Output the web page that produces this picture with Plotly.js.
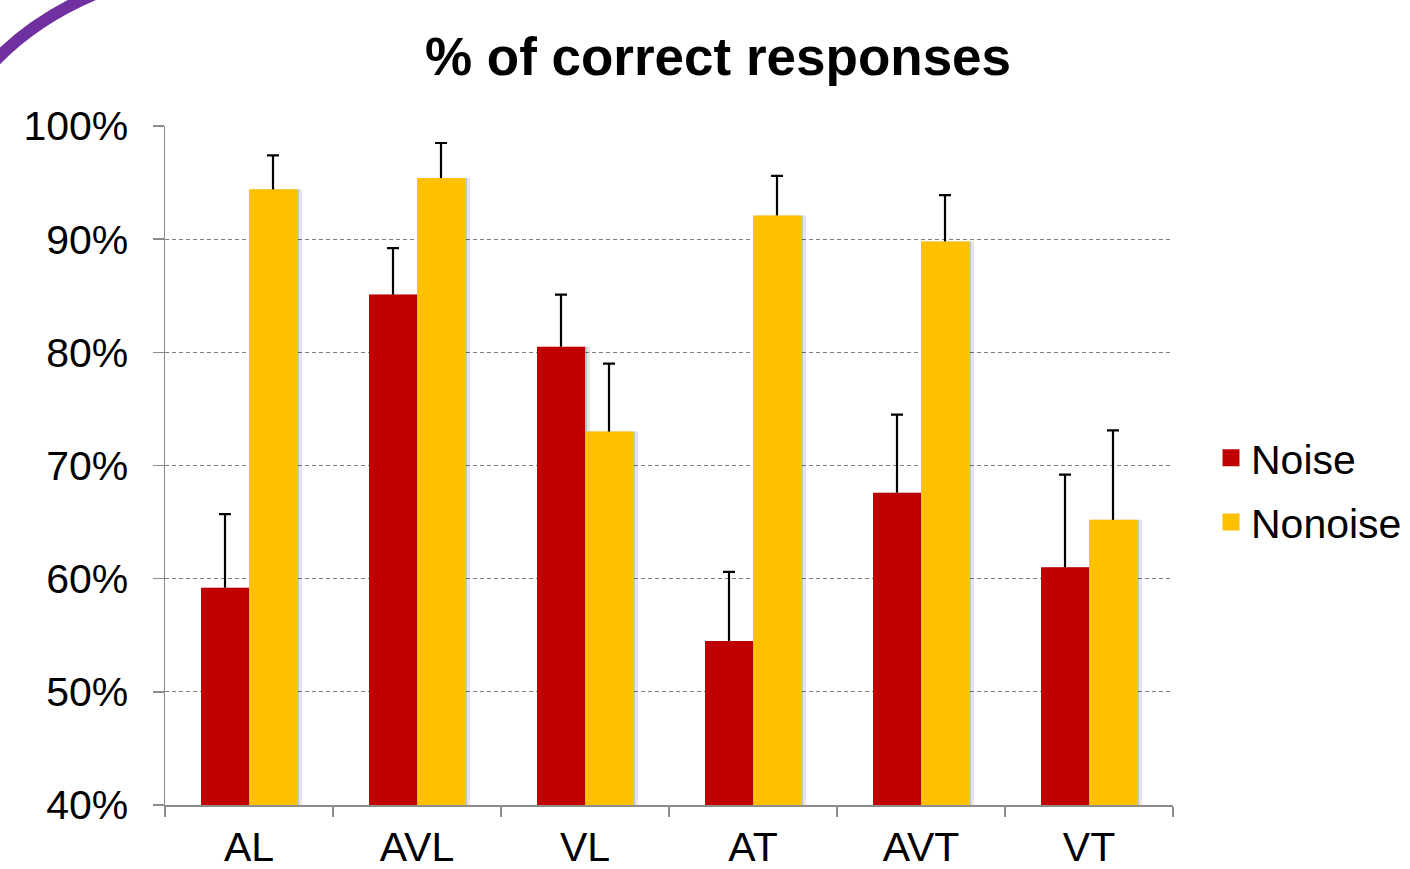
<!DOCTYPE html>
<html>
<head>
<meta charset="utf-8">
<script src="https://cdn.plot.ly/plotly-3.0.1.min.js"></script>
<style>
html,body{margin:0;padding:0;background:#fff;}
#chart{width:1410px;height:869px;}
</style>
</head>
<body>
<div id="chart"></div>
<script>
const categories = ['AL', 'AVL', 'VL', 'AT', 'AVT', 'VT'];
const noise = [59.2, 85.1, 80.5, 54.5, 67.6, 61.0];
const noiseErr = [6.5, 4.1, 4.6, 6.1, 6.9, 8.2];
const nonoise = [94.4, 95.4, 73.0, 92.1, 89.8, 65.2];
const nonoiseErr = [3.0, 3.1, 6.0, 3.5, 4.1, 7.9];
const yTicks = [40, 50, 60, 70, 80, 90, 100];

const AXIS_MIN = 40;
const W = 0.2857;      // bar width in category units
const px = 1 / 168;    // one pixel in category units

function shadow(vals, off, alpha) {
  return {
    type: 'bar', x: categories, y: vals.map(v => v - AXIS_MIN), base: AXIS_MIN,
    width: W, offset: off,
    marker: {color: 'rgba(0,0,0,' + alpha + ')', line: {width: 0}},
    showlegend: false, hoverinfo: 'skip'
  };
}
function mainBar(name, vals, errs, off, color) {
  return {
    type: 'bar', name: name, x: categories, y: vals.map(v => v - AXIS_MIN), base: AXIS_MIN,
    width: W, offset: off,
    marker: {color: color, line: {width: 0}},
    error_y: {type: 'data', symmetric: false, array: errs, arrayminus: errs.map(() => 0),
              color: '#000000', thickness: 2.2, width: 0},
    showlegend: false
  };
}
// zero-height carrier placed at the whisker end, used only to draw the cap
function capTrace(vals, errs, off) {
  return {
    type: 'bar', x: categories, y: vals.map(() => 0), base: vals.map((v, i) => v + errs[i]),
    width: W, offset: off,
    marker: {color: 'rgba(0,0,0,0)', line: {width: 0}},
    error_y: {type: 'data', symmetric: true, array: vals.map(() => 0),
              color: '#000000', thickness: 2.2, width: 6},
    showlegend: false, hoverinfo: 'skip'
  };
}

const traces = [
  shadow(noise, -W + 5 * px, 0.10),
  shadow(noise, -W + 2 * px, 0.15),
  shadow(nonoise, 5 * px, 0.10),
  shadow(nonoise, 2 * px, 0.15),
  mainBar('Noise', noise, noiseErr, -W, '#C00000'),
  mainBar('Nonoise', nonoise, nonoiseErr, 0, '#FFC000'),
  capTrace(noise, noiseErr, -W),
  capTrace(nonoise, nonoiseErr, 0),
  // legend entries
  {type: 'bar', name: 'Noise', x: [null], y: [null], legendgroup: 'a',
   marker: {color: '#C00000', line: {color: '#C00000', width: 8}}, showlegend: true, hoverinfo: 'skip'},
  {type: 'bar', name: 'Nonoise', x: [null], y: [null], legendgroup: 'b',
   marker: {color: '#FFC000', line: {color: '#FFC000', width: 8}}, showlegend: true, hoverinfo: 'skip'}
];

const layout = {
  width: 1410, height: 869,
  margin: {l: 165, r: 237, t: 126, b: 64, autoexpand: false},
  paper_bgcolor: '#ffffff', plot_bgcolor: '#ffffff',
  barmode: 'overlay',
  font: {family: '"Liberation Sans", Arial, sans-serif', color: '#000000', size: 41},
  title: {
    text: '<b>% of correct responses</b>',
    font: {family: '"Liberation Sans", Arial, sans-serif', size: 53, color: '#000000'},
    x: 718 / 1410, xref: 'container', xanchor: 'center',
    y: 1 - 56 / 869, yref: 'container', yanchor: 'middle'
  },
  xaxis: {
    type: 'category', categoryarray: categories, range: [-0.5, 5.5],
    showgrid: false, zeroline: false,
    showline: true, linecolor: '#8c8c8c', linewidth: 1.5,
    ticks: 'outside', tickson: 'boundaries', ticklen: 10, tickcolor: '#8c8c8c', tickwidth: 1.5,
    ticklabelstandoff: 5,
    tickfont: {size: 41, color: '#000000'}, fixedrange: true
  },
  yaxis: {
    range: [40, 100], tickvals: yTicks, ticktext: yTicks.map(v => v + '%'),
    showgrid: true, gridcolor: '#7f7f7f', gridwidth: 1.1, griddash: '4px,3px',
    zeroline: false,
    showline: true, linecolor: '#8c8c8c', linewidth: 1.5,
    ticks: 'outside', ticklen: 11, tickcolor: '#8c8c8c', tickwidth: 1.5,
    ticklabelstandoff: 16,
    tickfont: {size: 41, color: '#000000'}, fixedrange: true
  },
  legend: {
    xref: 'container', yref: 'container',
    x: 1211 / 1410, xanchor: 'left', y: 1 - 490 / 869, yanchor: 'middle',
    font: {size: 41, color: '#000000'},
    traceorder: 'grouped', tracegroupgap: 8,
    bgcolor: 'rgba(0,0,0,0)'
  },
  showlegend: true,
  shapes: [{
    type: 'path', xref: 'paper', yref: 'paper',
    path: 'M ' + (-175 / 1008) + ',' + ((805 - 66) / 679) +
          ' Q ' + (-128 / 1008) + ',' + ((805 - 15) / 679) +
          ' ' + (-55 / 1008) + ',' + ((805 + 12) / 679),
    line: {color: '#7030A0', width: 12}
  }]
};

Plotly.newPlot('chart', traces, layout, {displayModeBar: false, staticPlot: true});
</script>
</body>
</html>
